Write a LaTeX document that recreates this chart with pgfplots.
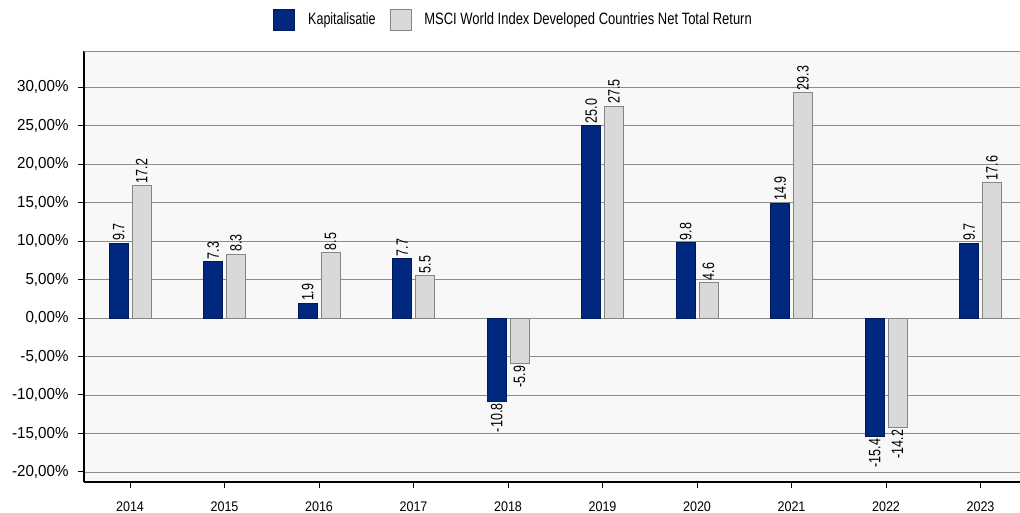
\documentclass[border=0pt]{standalone}
\usepackage{pgfplots}
\pgfplotsset{compat=1.18}
\usetikzlibrary{calc}
\usepackage{fontspec}
\setmainfont{Liberation Sans}
\definecolor{kap}{HTML}{00287F}
\definecolor{kapdark}{HTML}{001A5A}
\definecolor{msci}{HTML}{D9D9D9}
\definecolor{mscidark}{HTML}{858585}
\definecolor{gridc}{HTML}{8C8C8C}
\definecolor{bgc}{HTML}{F8F8F8}
\newcommand{\cond}[2]{\scalebox{#1}[1]{#2}}
\begin{document}
\begin{tikzpicture}
\begin{axis}[
  scale only axis, width=936bp, height=431bp,
  xmin=-0.487, xmax=9.418, ymin=-21.3, ymax=34.68,
  axis lines=left,
  axis line style={-, black, line width=1.1bp},
  axis background/.style={fill=bgc},
  tick align=outside,
  major tick length=6bp,
  tick style={black, line width=1bp},
  ytick={-20,-15,...,30},
  ymajorgrids,
  grid style={gridc, line width=0.9bp},
  xtick={0,1,2,3,4,5,6,7,8,9},
  xticklabels={\cond{0.9}{2014},\cond{0.9}{2015},\cond{0.9}{2016},\cond{0.9}{2017},\cond{0.9}{2018},\cond{0.9}{2019},\cond{0.9}{2020},\cond{0.9}{2021},\cond{0.9}{2022},\cond{0.9}{2023}},
  /pgf/number format/assume math mode=true,
  yticklabel={\cond{0.95}{\pgfmathprintnumber[fixed,fixed zerofill,precision=2,use comma]{\tick}\%}},
  yticklabel style={font=\fontsize{16}{18}\selectfont, xshift=-6bp},
  xticklabel style={font=\fontsize{14}{16}\selectfont, inner sep=0bp, yshift=-14bp},
  ybar, bar width=19bp,
  nodes near coords={\cond{0.76}{\pgfmathprintnumber[fixed,fixed zerofill,precision=1]{\pgfplotspointmeta}}},
  visualization depends on={rawy \as \rawy},
  every node near coord/.append style={rotate=90, font=\fontsize{16.5}{18}\selectfont, inner sep=2bp, text=black},
  every node near coord/.append code={\ifdim\rawy pt<0pt\pgfkeysalso{anchor=east}\else\pgfkeysalso{anchor=west}\fi},
  legend style={draw=none, fill=none, at={(0.459,1)}, anchor=center, yshift=31.5bp,
    legend columns=2, font=\fontsize{16.5}{18}\selectfont,
    /tikz/every odd column/.append style={column sep=11bp},
    /tikz/every even column/.append style={column sep=12bp}},
  legend image code/.code={\draw[#1] (0bp,-10.5bp) rectangle (21bp,10.5bp);},
]
\addplot+[bar shift=-11.3bp, fill=kap, draw=kapdark, line width=0.8bp] coordinates {
(0,9.7) (1,7.3) (2,1.9) (3,7.7) (4,-10.8) (5,25.0) (6,9.8) (7,14.9) (8,-15.4) (9,9.7)};
\addlegendentry{\cond{0.76}{Kapitalisatie}}
\addplot+[bar shift=11.5bp, fill=msci, draw=mscidark, line width=0.8bp] coordinates {
(0,17.2) (1,8.3) (2,8.5) (3,5.5) (4,-5.9) (5,27.5) (6,4.6) (7,29.3) (8,-14.2) (9,17.6)};
\addlegendentry{\cond{0.79}{MSCI World Index Developed Countries Net Total Return}}
\draw[gridc, line width=0.9bp] (rel axis cs:0,1) -- (rel axis cs:1,1);
\end{axis}
\pgfresetboundingbox
\path[use as bounding box] ($(current axis.south west)+(-84bp,-31bp)$) rectangle ($(current axis.north east)+(0,51bp)$);
\end{tikzpicture}
\end{document}
